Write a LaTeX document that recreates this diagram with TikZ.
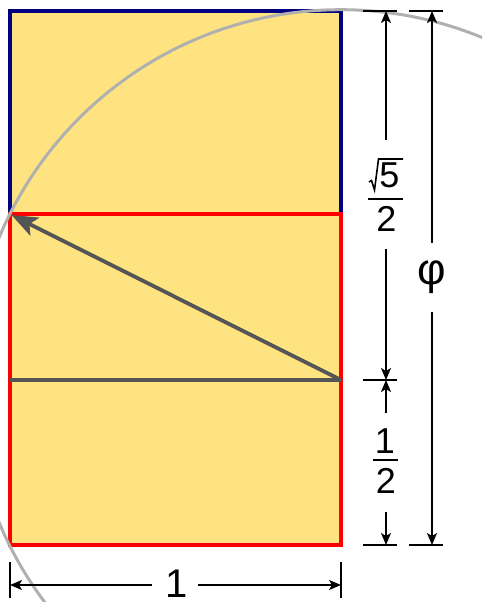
\documentclass[tikz,border=0pt]{standalone}
\usepackage{fontspec}
\setmainfont{Liberation Sans}
\usetikzlibrary{arrows.meta}
\definecolor{fillY}{HTML}{FFE380}
\definecolor{navyB}{HTML}{000080}
\definecolor{redR}{HTML}{FF0000}
\definecolor{grayL}{HTML}{555555}
\definecolor{arcG}{HTML}{B0B0B0}
\begin{document}
\begin{tikzpicture}[x=1pt,y=-1pt,
  dimline/.style={line width=1.6pt, black, -{Stealth[length=12pt,width=10pt,inset=3pt]}},
  tickline/.style={line width=1.6pt, black},
  fracbar/.style={line width=1.7pt, black},
  lbl/.style={inner sep=0pt, outer sep=0pt, font=\fontsize{36}{36}\selectfont, anchor=base},
  biglbl/.style={inner sep=0pt, outer sep=0pt, font=\fontsize{40}{40}\selectfont, anchor=base},
  border/.style={line width=3.4pt},
  grayline/.style={line width=3.8pt, grayL},
  grayarrow/.style={line width=3.8pt, grayL, -{Stealth[length=26pt,width=20pt,inset=6pt]}},
  arcline/.style={line width=3pt, arcG}]
\useasboundingbox (0,0) rectangle (482,602);
% corner points
\coordinate (TL) at (10,11);
\coordinate (TR) at (341,11);
\coordinate (ML) at (10,214);
\coordinate (MR) at (341,214);
\coordinate (HL) at (10,380);
\coordinate (HR) at (341,380);
\coordinate (BL) at (10,545);
\coordinate (BR) at (341,545);
% fill
\fill[fillY] (TL) rectangle (BR);
% blue part
\draw[border, navyB] (ML) -- (TL) -- (TR) -- (MR);
% red square
\draw[border, redR] (ML) rectangle (BR);
% gray line and arrow
\draw[grayline] (HL) -- (HR);
\coordinate (tip) at (11.5,215);
\draw[grayarrow] (HR) -- (tip);
% arc
\begin{scope}
\clip (0,0) rectangle (482,602);
\draw[arcline] (HR) circle[radius=370.3pt];
\end{scope}
% ---- dimension column 1 (x=386)
\coordinate (a1L) at (363,11);  \coordinate (a1R) at (397,11);
\coordinate (a2L) at (363,380); \coordinate (a2R) at (397,380);
\coordinate (a3L) at (363,545); \coordinate (a3R) at (397,545);
\draw[tickline] (a1L) -- (a1R);
\draw[tickline] (a2L) -- (a2R);
\draw[tickline] (a3L) -- (a3R);
\coordinate (a1) at (386,11);
\coordinate (a2) at (386,380);
\coordinate (a3) at (386,545);
\coordinate (s1) at (386,140);
\coordinate (s2) at (386,249);
\coordinate (s3) at (386,413);
\coordinate (s4) at (386,512);
\draw[dimline] (s1) -- (a1);
\draw[dimline] (s2) -- (a2);
\draw[dimline] (s3) -- (a2);
\draw[dimline] (s4) -- (a3);
% sqrt5 / 2
\node[lbl] (five) at (389.5,187) {5};
\node[lbl] (twoA) at (386.5,231) {2};
\coordinate (r1) at (369,182);
\coordinate (r2) at (371.5,180.5);
\coordinate (r3) at (374.5,190);
\coordinate (r4) at (378.5,159);
\coordinate (r5) at (403,159);
\draw[line width=1.6pt, line join=miter] (r1) -- (r2) -- (r3) -- (r4) -- (r5);
\coordinate (b1) at (368,199);
\coordinate (b2) at (403,199);
\draw[fracbar] (b1) -- (b2);
% 1 / 2
\node[lbl] (oneB) at (385,453) {1};
\node[lbl] (twoB) at (386,493) {2};
\coordinate (c1) at (373,460);
\coordinate (c2) at (398,460);
\draw[fracbar] (c1) -- (c2);
% ---- dimension column 2 (x=432)
\coordinate (p1L) at (409,11);  \coordinate (p1R) at (443,11);
\coordinate (p3L) at (409,545); \coordinate (p3R) at (443,545);
\draw[tickline] (p1L) -- (p1R);
\draw[tickline] (p3L) -- (p3R);
\coordinate (p1) at (432,11);
\coordinate (p3) at (432,545);
\node[inner sep=0pt, font=\fontsize{44}{44}\selectfont] (phi) at (432,277) {φ};
\coordinate (q1) at (432,243);
\coordinate (q2) at (432,312);
\draw[dimline] (q1) -- (p1);
\draw[dimline] (q2) -- (p3);
% ---- bottom dimension
\coordinate (w1T) at (10,562); \coordinate (w1B) at (10,598);
\coordinate (w2T) at (341,562); \coordinate (w2B) at (341,598);
\draw[tickline] (w1T) -- (w1B);
\draw[tickline] (w2T) -- (w2B);
\node[biglbl] (oneC) at (177,597) {1};
\coordinate (e1) at (152,585);
\coordinate (e2) at (198,585);
\coordinate (wl) at (10,585);
\coordinate (wr) at (341,585);
\draw[dimline] (e1) -- (wl);
\draw[dimline] (e2) -- (wr);
\end{tikzpicture}
\end{document}
